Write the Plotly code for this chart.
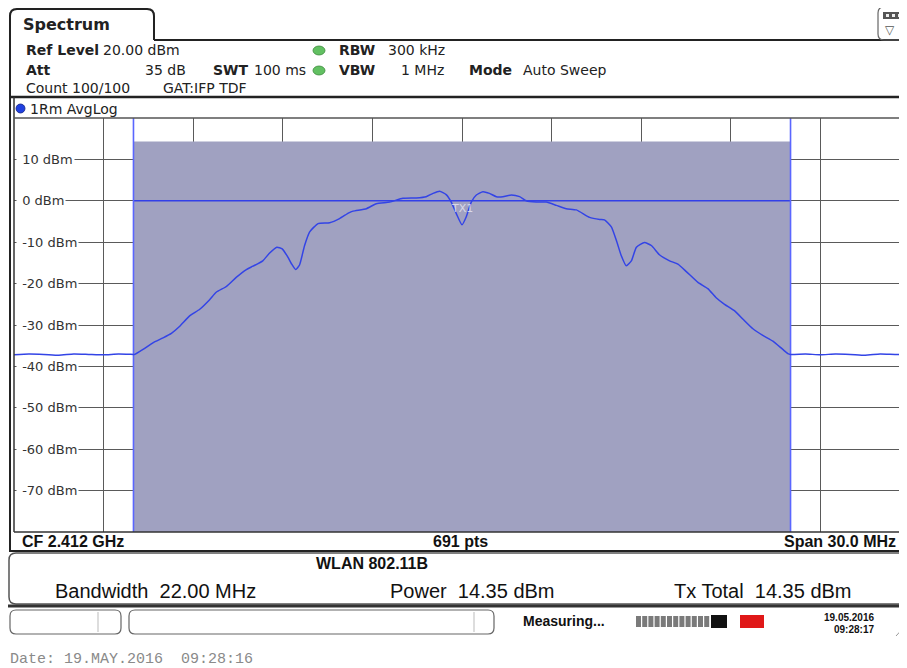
import plotly.graph_objects as go

# ---------------- data ----------------
center_freq_mhz = 2412.0
span_mhz = 30.0
channel_bw_mhz = 22.0
channel_power_dbm = 14.35
tx_total_dbm = 14.35
ref_level_dbm = 20.0
sweep_points = 691

freq_mhz = [
    2397.0, 2397.5, 2398.0, 2398.5, 2399.0, 2399.5, 2400.0, 2400.5, 2401.0,
    2401.04, 2401.32, 2401.65, 2401.99, 2402.27, 2402.55, 2402.88, 2403.22,
    2403.55, 2403.77, 2404.11, 2404.44, 2404.78, 2405.00, 2405.33, 2405.56,
    2405.80, 2405.98, 2406.17, 2406.29, 2406.43, 2406.56, 2406.73, 2406.90,
    2407.18, 2407.57, 2407.90, 2408.21, 2408.35, 2408.80, 2409.13, 2409.58,
    2410.02, 2410.47, 2410.80, 2411.03, 2411.25, 2411.47, 2411.64, 2411.81,
    2412.00, 2412.14, 2412.31, 2412.48, 2412.70, 2412.92, 2413.15, 2413.37,
    2413.65, 2413.93, 2414.15, 2414.49, 2414.82, 2415.16, 2415.49, 2415.83,
    2416.27, 2416.61, 2416.77, 2417.00, 2417.17, 2417.33, 2417.50, 2417.67,
    2417.84, 2418.11, 2418.34, 2418.62, 2418.95, 2419.23, 2419.51, 2419.90,
    2420.23, 2420.51, 2420.79, 2421.13, 2421.41, 2421.74, 2422.07, 2422.41,
    2422.74, 2422.91, 2423.0, 2423.5, 2424.0, 2424.5, 2425.0, 2425.5,
    2426.0, 2426.5, 2427.0,
]
level_dbm = [
    -37.2, -37.0, -37.1, -37.3, -37.0, -37.1, -37.2, -37.0, -37.1,
    -37.1, -35.9, -34.3, -33.1, -32.0, -30.3, -27.8, -26.2,
    -23.9, -22.1, -20.7, -18.5, -16.6, -15.8, -14.5, -12.6,
    -11.2, -11.6, -13.6, -15.2, -16.6, -15.5, -10.8, -7.5,
    -5.5, -5.3, -4.3, -2.9, -2.5, -1.9, -0.7, -0.3,
    0.6, 0.7, 1.0, 1.8, 2.3, 1.5, -0.3, -3.1,
    -5.8, -3.9, -0.3, 1.4, 2.2, 1.8, 1.0, 1.0,
    1.4, 1.0, 0.0, -0.3, -0.3, -1.1, -1.9, -2.2,
    -4.0, -4.5, -4.6, -6.3, -9.6, -13.2, -15.7, -14.5,
    -11.2, -10.1, -10.8, -13.1, -14.5, -15.3, -17.1, -19.7,
    -21.2, -23.4, -25.0, -26.6, -28.6, -30.9, -32.5, -33.9,
    -35.9, -36.9, -37.1, -37.0, -37.2, -37.0, -37.1, -37.3,
    -37.0, -37.1, -37.1,
]
y_tick_vals = [10, 0, -10, -20, -30, -40, -50, -60, -70]
y_tick_labels = ["10 dBm", "0 dBm", "-10 dBm", "-20 dBm", "-30 dBm",
                 "-40 dBm", "-50 dBm", "-60 dBm", "-70 dBm"]

# ---------------- layout geometry (page pixels) ----------------
PAGE_W, PAGE_H = 907, 668
OFF = 8  # default body margin of the page
FIG_W, FIG_H = PAGE_W - OFF, PAGE_H - OFF
L, R, T, B = 14, 907, 118, 532
def px(x):
    return (x - L) / (R - L)
def py(y):
    return (B - y) / (B - T)
def P(x, y):
    return f"{px(x):.5f},{py(y):.5f}"

x_start = center_freq_mhz - span_mhz / 2
x_end = x_start + span_mhz * (R - L) / 896.0

fig = go.Figure()

ch_lo = center_freq_mhz - channel_bw_mhz / 2
ch_hi = center_freq_mhz + channel_bw_mhz / 2
y_bottom = ref_level_dbm - 100

# channel power bar
fig.add_trace(go.Scatter(
    x=[ch_lo, ch_lo, ch_hi, ch_hi, ch_lo],
    y=[y_bottom, channel_power_dbm, channel_power_dbm, y_bottom, y_bottom],
    fill="toself", fillcolor="#a0a1c1", line=dict(width=0), mode="lines",
    hoverinfo="skip", showlegend=False))
# 0 dBm line within channel
fig.add_trace(go.Scatter(x=[ch_lo, ch_hi], y=[0, 0], mode="lines",
                         line=dict(color="#3340e8", width=1.5),
                         hoverinfo="skip", showlegend=False))
# channel limit lines
for xv in (ch_lo, ch_hi):
    fig.add_trace(go.Scatter(x=[xv, xv], y=[y_bottom, ref_level_dbm], mode="lines",
                             line=dict(color="#5a66ff", width=1.6),
                             hoverinfo="skip", showlegend=False))
# spectrum trace
fig.add_trace(go.Scatter(x=freq_mhz, y=level_dbm, mode="lines",
                         line=dict(color="#3344e6", width=1.5, shape="spline", smoothing=0.5),
                         showlegend=False))

shapes = []
def line(x0, y0, x1, y1, color="#222", width=2):
    shapes.append(dict(type="line", xref="paper", yref="paper",
                       x0=px(x0), y0=py(y0), x1=px(x1), y1=py(y1),
                       line=dict(color=color, width=width), layer="above"))
def path(d, color="#444", width=1.5, fill=None):
    s = dict(type="path", xref="paper", yref="paper", path=d,
             line=dict(color=color, width=width), layer="above")
    if fill:
        s["fillcolor"] = fill
    shapes.append(s)
def rect(x0, y0, x1, y1, fill, color=None, width=0):
    shapes.append(dict(type="rect", xref="paper", yref="paper",
                       x0=px(x0), y0=py(y0), x1=px(x1), y1=py(y1),
                       fillcolor=fill, line=dict(color=color or fill, width=width), layer="above"))
def circle(x0, y0, x1, y1, fill, color):
    shapes.append(dict(type="circle", xref="paper", yref="paper",
                       x0=px(x0), y0=py(y0), x1=px(x1), y1=py(y1),
                       fillcolor=fill, line=dict(color=color, width=0.8), layer="above"))

# tab
path(f"M {P(10,40)} L {P(10,16)} Q {P(10,9)} {P(17,9)} L {P(147,9)} Q {P(154,9)} {P(154,16)} L {P(154,40)}",
     color="#222", width=2)
line(154, 40, 907, 40, "#222", 2)
line(10, 40, 10, 552, "#222", 2)
line(10, 97, 907, 97, "#222", 2.5)
line(14, 97, 14, 532, "#333", 1.5)
line(14, 118, 907, 118, "#555", 1.5)
line(14, 532, 907, 532, "#333", 1.5)
line(10, 551, 907, 551, "#222", 2)
# measurement panel
path(f"M {P(915,553)} L {P(16,553)} Q {P(9,553)} {P(9,560)} L {P(9,597)} Q {P(9,604)} {P(16,604)} L {P(915,604)}",
     color="#555", width=1.5)
line(8, 606, 907, 606, "#333", 3)
# status boxes
path(f"M {P(16,610)} L {P(115,610)} Q {P(121,610)} {P(121,616)} L {P(121,628)} Q {P(121,634)} {P(115,634)} "
     f"L {P(16,634)} Q {P(10,634)} {P(10,628)} L {P(10,616)} Q {P(10,610)} {P(16,610)} Z",
     color="#666", width=1.2)
line(98, 612, 98, 632, "#bbb", 1)
path(f"M {P(135,610)} L {P(488,610)} Q {P(494,610)} {P(494,616)} L {P(494,628)} Q {P(494,634)} {P(488,634)} "
     f"L {P(135,634)} Q {P(129,634)} {P(129,628)} L {P(129,616)} Q {P(129,610)} {P(135,610)} Z",
     color="#666", width=1.2)
line(474, 612, 474, 632, "#bbb", 1)
# progress bar
for i in range(12):
    x0 = 636 + i * 6.2
    rect(x0, 616, x0 + 5, 627, "#7a7a7a")
rect(711, 615, 727, 628, "#111")
rect(740, 615, 764, 628, "#e01818")
# resize grip
line(896, 636, 907, 624, "#999", 1)
line(901, 636, 907, 629, "#999", 1)
# top-right icon
path(f"M {P(907,40)} L {P(884,40)} Q {P(878,40)} {P(878,34)} L {P(878,13)} Q {P(878,7)} {P(884,7)} L {P(910,7)}",
     color="#666", width=1.2)
rect(883, 12, 903, 19, "#555")
for xx in (886, 892, 898):
    rect(xx, 14, xx + 3, 17, "#eee")
# indicator dots
circle(313, 46, 325, 55, "#62c062", "#3d8a3d")
circle(313, 66, 325, 75, "#62c062", "#3d8a3d")
circle(16, 104, 25, 113, "#2040e0", "#102080")

annotations = []
def text(x, y, s, size=14, color="#222", family="DejaVu Sans", anchor="left", bold=False):
    annotations.append(dict(xref="paper", yref="paper", x=px(x), y=py(y),
                            text=(f"<b>{s}</b>" if bold else s), showarrow=False,
                            xanchor=anchor, yanchor="middle",
                            font=dict(size=size, color=color, family=family)))

text(21, 25, "Spectrum", size=16, bold=True)
text(24, 50.5, "Ref Level", bold=True)
text(101, 50.5, f"{ref_level_dbm:.2f} dBm")
text(337, 50.5, "RBW", bold=True)
text(386, 50.5, "300 kHz")
text(24, 70.5, "Att", bold=True)
text(188, 70.5, "35 dB", anchor="right")
text(211, 70.5, "SWT", bold=True)
text(252, 70.5, "100 ms")
text(337, 70.5, "VBW", bold=True)
text(446, 70.5, "1 MHz", anchor="right")
text(467, 70.5, "Mode", bold=True)
text(521, 70.5, "Auto Sweep")
text(24, 88.5, "Count 100/100")
text(161, 88.5, "GAT:IFP TDF")
text(28, 109, "1Rm AvgLog")
text(890, 30, "▽", size=12, color="#555", anchor="center")

narrow = "Liberation Sans Narrow, Liberation Sans, Arial"
text(20, 541.5, f"CF {center_freq_mhz/1000:.3f} GHz", size=16, family=narrow, bold=True, color="#111")
text(460, 541.5, f"{sweep_points} pts", size=16, family=narrow, bold=True, anchor="center", color="#111")
text(898, 541.5, f"Span {span_mhz:.1f} MHz", size=16, family=narrow, bold=True, anchor="right", color="#111")
text(372, 563, "WLAN 802.11B", size=16, family=narrow, bold=True, anchor="center", color="#111")
text(53, 591, f"Bandwidth&nbsp; {channel_bw_mhz:.2f} MHz", size=20, family=narrow, color="#111")
text(388, 591, f"Power&nbsp; {channel_power_dbm:.2f} dBm", size=20, family=narrow, color="#111")
text(672, 591, f"Tx Total&nbsp; {tx_total_dbm:.2f} dBm", size=20, family=narrow, color="#111")
text(521, 621, "Measuring...", size=14, family=narrow, bold=True, color="#111")
text(876, 617, "19.05.2016", size=10, family=narrow, bold=True, anchor="right", color="#111")
text(876, 629, "09:28:17", size=10, family=narrow, bold=True, anchor="right", color="#111")
text(8, 659, "Date: 19.MAY.2016\u00a0\u00a009:28:16", size=15, family="Liberation Mono, DejaVu Sans Mono",
     color="#8a8a8a")

# y tick labels inside plot
for v, lab in zip(y_tick_vals, y_tick_labels):
    annotations.append(dict(xref="paper", yref="y", x=0, y=v, xshift=2,
                            text="\u00a0" + lab, showarrow=False,
                            xanchor="left", yanchor="middle", bgcolor="white", borderpad=1,
                            font=dict(size=13, color="#333", family="DejaVu Sans")))
# channel label
annotations.append(dict(xref="x", yref="y", x=center_freq_mhz, y=-1.9, text="TX1", showarrow=False,
                        font=dict(size=11, color="rgba(228,228,242,0.85)", family="DejaVu Sans")))

fig.update_layout(
    width=FIG_W, height=FIG_H,
    margin=dict(l=L - OFF, r=PAGE_W - R, t=T - OFF, b=PAGE_H - B),
    paper_bgcolor="white", plot_bgcolor="white",
    shapes=shapes, annotations=annotations,
    xaxis=dict(range=[x_start, x_end], tick0=x_start, dtick=span_mhz / 10,
               showticklabels=False, ticks="", showgrid=True,
               gridcolor="#5a5a5a", gridwidth=1.4, zeroline=False, showline=False, fixedrange=True),
    yaxis=dict(range=[y_bottom, ref_level_dbm], tick0=y_bottom, dtick=10,
               showticklabels=False, ticks="", showgrid=True,
               gridcolor="#5a5a5a", gridwidth=1.4, zeroline=False, showline=False, fixedrange=True),
    showlegend=False,
)

fig.write_html("out.html")
